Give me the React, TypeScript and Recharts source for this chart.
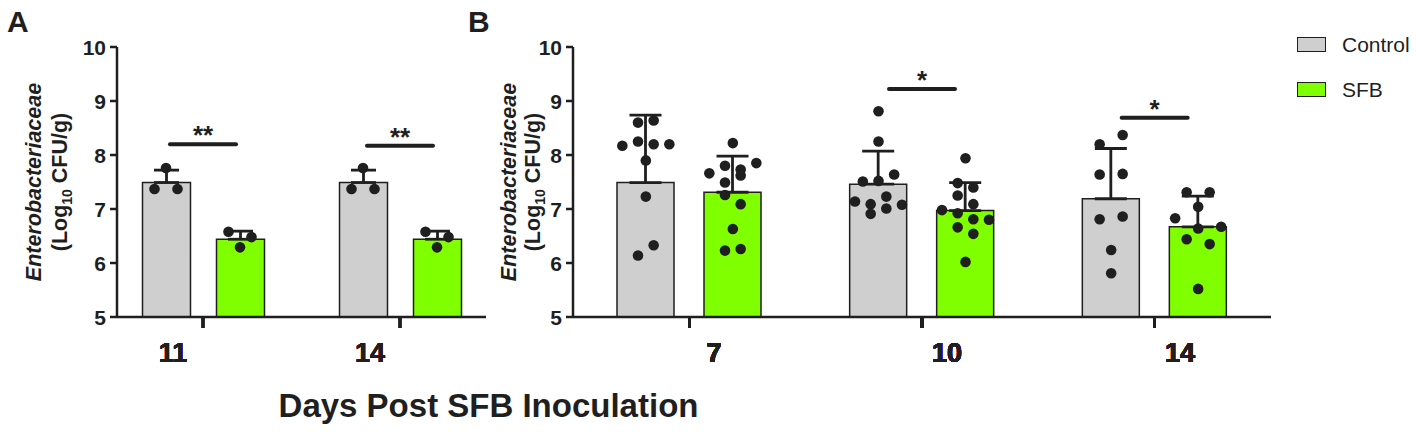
import React from 'react';
import { ComposedChart, Bar, Scatter, XAxis, YAxis, ErrorBar, Legend } from 'recharts';

const FONT = '"Liberation Sans", Arial, Helvetica, sans-serif';
const INK = '#1f1f1f';

// ---------- shared ----------
const seriesNames = ['Control', 'SFB'];
const seriesColors = ['#cfcfcf', '#80ff00'];
const yTicks = [5, 6, 7, 8, 9, 10];
const yTitle = 'Enterobacteriaceae';
const xTitle = 'Days Post SFB Inoculation';

// ---------- panel A ----------
const daysA = ['11', '14'];
const controlMeanA = [7.49, 7.49];
const controlSdA = [0.23, 0.23];
const sfbMeanA = [6.44, 6.44];
const sfbSdA = [0.15, 0.15];
const controlDotsA = [
  [7.76, 7.37, 7.37],
  [7.76, 7.37, 7.37],
];
const sfbDotsA = [
  [6.58, 6.48, 6.29],
  [6.58, 6.48, 6.29],
];
const sigLevelA = [8.2, 8.17];
const sigMarkA = ['**', '**'];

// ---------- panel B ----------
const daysB = ['7', '10', '14'];
const controlMeanB = [7.49, 7.46, 7.19];
const controlSdB = [1.25, 0.61, 0.93];
const sfbMeanB = [7.31, 6.97, 6.67];
const sfbSdB = [0.67, 0.52, 0.57];
const controlDotsB = [
  [8.6, 8.64, 8.17, 8.25, 8.2, 8.2, 7.9, 7.23, 6.14, 6.33],
  [8.81, 8.25, 7.51, 7.52, 7.64, 7.14, 7.09, 7.23, 7.08, 6.91, 7.01],
  [8.2, 8.37, 7.64, 7.65, 6.81, 6.86, 6.24, 5.81],
];
const sfbDotsB = [
  [8.22, 7.66, 7.8, 7.73, 7.85, 7.49, 7.62, 7.26, 7.09, 6.63, 6.23, 6.26],
  [7.94, 7.48, 7.4, 7.25, 7.09, 6.98, 6.92, 6.81, 6.8, 6.66, 6.54, 6.02],
  [7.31, 7.31, 7.04, 6.83, 6.64, 6.67, 6.44, 6.35, 5.52],
];
const sigLevelB: (number | null)[] = [null, 9.22, 8.69];
const sigMarkB = ['', '*', '*'];

// ---------- layout helpers (no data) ----------
// Prism-like row swarm: values within one dot height share a row and are spread evenly.
function swarmOffsets(values: number[], bin: number, spread: number, maxStep: number): number[] {
  const order = values.map((_, i) => i).sort((a, b) => values[b] - values[a] || a - b);
  const rows: number[][] = [];
  let cur: number[] = [];
  let start = Infinity;
  for (const i of order) {
    if (cur.length && start - values[i] <= bin + 1e-9) cur.push(i);
    else {
      if (cur.length) rows.push(cur);
      cur = [i];
      start = values[i];
    }
  }
  if (cur.length) rows.push(cur);
  const maxN = Math.max(...rows.map((r) => r.length));
  const step = maxN > 1 ? Math.min(maxStep, spread / (maxN - 1)) : 0;
  const out = new Array(values.length).fill(0);
  rows.forEach((r) => {
    r.sort((a, b) => a - b);
    r.forEach((idx, k) => {
      out[idx] = (k - (r.length - 1) / 2) * step;
    });
  });
  return out;
}

function buildBars(days: string[], cm: number[], cs: number[], sm: number[], ss: number[]) {
  return days.map((day, i) => ({
    day,
    control: cm[i],
    controlErr: [0, cs[i]],
    sfb: sm[i],
    sfbErr: [0, ss[i]],
  }));
}

function buildDots(days: string[], dots: number[][]) {
  return days.flatMap((day, i) => {
    const offs = swarmOffsets(dots[i], 0.2, 47, 23);
    return dots[i].map((v, k) => ({ day, value: v, jitter: offs[k] }));
  });
}

function buildSig(days: string[], levels: (number | null)[], marks: string[]) {
  return days
    .map((day, i) => ({ day, value: levels[i], mark: marks[i] }))
    .filter((r) => r.value !== null);
}

const Y_AXIS_W = 60;
const X_AXIS_H = 60;
const PLOT_TOP = 47;
const PLOT_BOTTOM = 317;
const H = 432;

const YTick = (p: any) => (
  <text
    x={p.x - 2}
    y={p.y}
    textAnchor="end"
    dominantBaseline="central"
    fontFamily={FONT}
    fontWeight="bold"
    fontSize={21}
    fill={INK}
    stroke="none"
  >
    {p.payload.value}
  </text>
);

const makeXTick = (dx: number) => (p: any) => (
  <text
    x={Math.round(p.x + dx)}
    y={Math.round(p.y + 32)}
    textAnchor="middle"
    fontFamily={FONT}
    fontWeight="bold"
    fontSize={27}
    fill={INK}
    stroke="none"
  >
    {p.payload.value}
  </text>
);

const makeDot = (shift: number) => (p: any) => {
  if (p.cx == null || p.cy == null) return <g />;
  return <circle cx={p.cx + shift + (p.payload?.jitter ?? 0)} cy={p.cy} r={5.3} fill={INK} />;
};

const sigShape = (p: any) => {
  if (p.cx == null || p.cy == null) return <g />;
  return (
    <g>
      <line
        x1={p.cx - 33}
        x2={p.cx + 33}
        y1={p.cy}
        y2={p.cy}
        stroke={INK}
        strokeWidth={4}
        strokeLinecap="round"
      />
      <text
        x={p.cx}
        y={p.cy}
        textAnchor="middle"
        fontFamily={FONT}
        fontWeight="bold"
        fontSize={26}
        fill={INK}
      >
        {p.payload?.mark}
      </text>
    </g>
  );
};

const renderLegend = () => (
  <div style={{ fontFamily: FONT, fontSize: 21, color: INK }}>
    {seriesNames.map((n, i) => (
      <div key={n} style={{ display: 'flex', alignItems: 'center', height: 45 }}>
        <div
          style={{
            width: 29,
            height: 15,
            boxSizing: 'border-box',
            border: `1.5px solid ${INK}`,
            background: seriesColors[i],
          }}
        />
        <span style={{ marginLeft: 16, lineHeight: '21px' }}>{n}</span>
      </div>
    ))}
  </div>
);

type PanelProps = {
  left: number;
  width: number;
  plotLeft: number;
  plotRight: number;
  letter: string;
  letterDx: number;
  line1Dx: number;
  line2Dx: number;
  bars: any[];
  ctrlDots: any[];
  sfbDots: any[];
  sig: any[];
  barSize: number;
  barGap: number;
  capHalf: number;
  xPad: number;
  tickDx: number;
  legend?: boolean;
  title?: boolean;
};

function Panel(props: PanelProps) {
  const {
    left, width, plotLeft, plotRight, letter, letterDx, line1Dx, line2Dx,
    bars, ctrlDots, sfbDots, sig, barSize, barGap, capHalf, xPad, tickDx, legend, title,
  } = props;
  const ax = plotLeft - left; // chart-relative y-axis x
  const cy = (PLOT_TOP + PLOT_BOTTOM) / 2;
  const half = (barSize + barGap) / 2;

  const yLabel = () => (
    <g>
      <text x={ax + letterDx} y={32} fontFamily={FONT} fontWeight="bold" fontSize={30} fill={INK}>
        {letter}
      </text>
      <text
        x={ax + line1Dx}
        y={cy}
        transform={`rotate(-90 ${ax + line1Dx} ${cy})`}
        textAnchor="middle"
        fontFamily={FONT}
        fontWeight="bold"
        fontStyle="italic"
        fontSize={21.5}
        fill={INK}
      >
        {yTitle}
      </text>
      <text
        x={ax + line2Dx}
        y={cy}
        transform={`rotate(-90 ${ax + line2Dx} ${cy})`}
        textAnchor="middle"
        fontFamily={FONT}
        fontWeight="bold"
        fontSize={21.5}
        fill={INK}
      >
        (Log
        <tspan fontSize={14} dy={5}>10</tspan>
        <tspan dy={-5}> CFU/g)</tspan>
      </text>
    </g>
  );

  const xLabel = () =>
    title ? (
      <text
        x={488.5 - left}
        y={417}
        textAnchor="middle"
        fontFamily={FONT}
        fontWeight="bold"
        fontSize={33}
        fill={INK}
      >
        {xTitle}
      </text>
    ) : (
      <g />
    );

  return (
    <div style={{ position: 'absolute', left, top: 0, width, height: H }}>
      <ComposedChart
        width={width}
        height={H}
        data={bars}
        barGap={barGap}
        margin={{
          top: PLOT_TOP,
          bottom: H - PLOT_BOTTOM - X_AXIS_H,
          left: plotLeft - left - Y_AXIS_W,
          right: left + width - plotRight,
        }}
      >
        <XAxis
          dataKey="day"
          type="category"
          scale="band"
          allowDuplicatedCategory={false}
          padding={{ left: xPad, right: xPad }}
          height={X_AXIS_H}
          interval={0}
          tickSize={11}
          tickMargin={2}
          axisLine={{ stroke: INK, strokeWidth: 2.5 }}
          tickLine={{ stroke: INK, strokeWidth: 2.5 }}
          tick={makeXTick(tickDx)}
          label={xLabel}
        />
        <YAxis
          type="number"
          domain={[5, 10]}
          ticks={yTicks}
          allowDataOverflow
          width={Y_AXIS_W}
          interval={0}
          tickSize={7}
          tickMargin={2}
          axisLine={{ stroke: INK, strokeWidth: 2.5 }}
          tickLine={{ stroke: INK, strokeWidth: 2.5 }}
          tick={YTick}
          label={yLabel}
        />
        <Bar
          dataKey="control"
          name={seriesNames[0]}
          fill={seriesColors[0]}
          stroke={INK}
          strokeWidth={1.5}
          barSize={barSize}
          isAnimationActive={false}
        >
          <ErrorBar
            dataKey="controlErr"
            direction="y"
            width={capHalf}
            stroke={INK}
            strokeWidth={2.8}
            isAnimationActive={false}
          />
        </Bar>
        <Bar
          dataKey="sfb"
          name={seriesNames[1]}
          fill={seriesColors[1]}
          stroke={INK}
          strokeWidth={1.5}
          barSize={barSize}
          isAnimationActive={false}
        >
          <ErrorBar
            dataKey="sfbErr"
            direction="y"
            width={capHalf}
            stroke={INK}
            strokeWidth={2.8}
            isAnimationActive={false}
          />
        </Bar>
        <Scatter
          name="Control points"
          data={ctrlDots}
          dataKey="value"
          shape={makeDot(-half)}
          legendType="none"
          isAnimationActive={false}
        />
        <Scatter
          name="SFB points"
          data={sfbDots}
          dataKey="value"
          shape={makeDot(half)}
          legendType="none"
          isAnimationActive={false}
        />
        <Scatter
          name="significance"
          data={sig}
          dataKey="value"
          shape={sigShape}
          legendType="none"
          isAnimationActive={false}
        />
        {legend ? (
          <Legend
            layout="vertical"
            align="center"
            verticalAlign="middle"
            content={renderLegend}
            wrapperStyle={{ left: 1297 - left, top: 21.5, width: 140, height: 90, margin: 0 }}
          />
        ) : null}
      </ComposedChart>
    </div>
  );
}

const barsA = buildBars(daysA, controlMeanA, controlSdA, sfbMeanA, sfbSdA);
const ctrlDotsA = buildDots(daysA, controlDotsA);
const sfbPtsA = buildDots(daysA, sfbDotsA);
const sigA = buildSig(daysA, sigLevelA, sigMarkA);

const barsB = buildBars(daysB, controlMeanB, controlSdB, sfbMeanB, sfbSdB);
const ctrlDotsB = buildDots(daysB, controlDotsB);
const sfbPtsB = buildDots(daysB, sfbDotsB);
const sigB = buildSig(daysB, sigLevelB, sigMarkB);

export default function App() {
  return (
    <div
      style={{
        position: 'absolute',
        left: 0,
        top: 0,
        width: 1417,
        height: H,
        background: '#fff',
        overflow: 'hidden',
        fontFamily: FONT,
      }}
    >
      <Panel
        left={0}
        width={720}
        plotLeft={117}
        plotRight={486}
        letter="A"
        letterDx={-110}
        line1Dx={-76}
        line2Dx={-50}
        bars={barsA}
        ctrlDots={ctrlDotsA}
        sfbDots={sfbPtsA}
        sig={sigA}
        barSize={48}
        barGap={26}
        capHalf={12.5}
        xPad={-12.5}
        tickDx={-30}
        title
      />
      <Panel
        left={440}
        width={977}
        plotLeft={573}
        plotRight={1271}
        letter="B"
        letterDx={-105}
        line1Dx={-57}
        line2Dx={-33}
        bars={barsB}
        ctrlDots={ctrlDotsB}
        sfbDots={sfbPtsB}
        sig={sigB}
        barSize={57}
        barGap={30}
        capHalf={16}
        xPad={0}
        tickDx={25}
        legend
      />
    </div>
  );
}
